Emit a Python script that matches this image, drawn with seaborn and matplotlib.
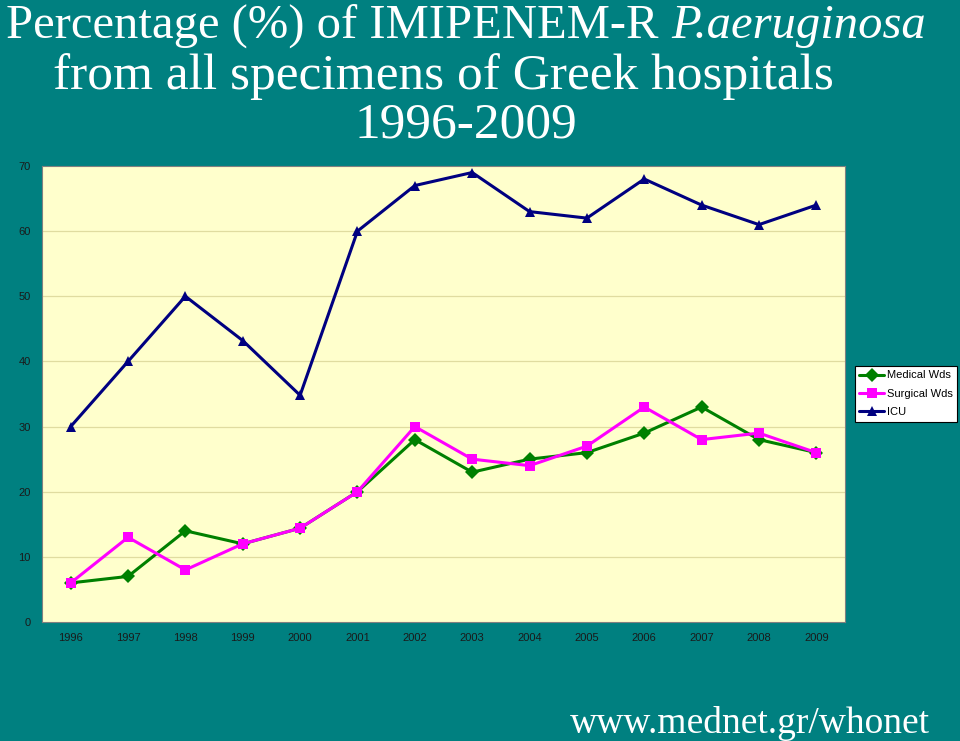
import matplotlib
matplotlib.use("Agg")
import matplotlib.pyplot as plt
import seaborn as sns
import pandas as pd

years = [1996, 1997, 1998, 1999, 2000, 2001, 2002, 2003, 2004, 2005, 2006, 2007, 2008, 2009]
medical = [6, 7, 14, 12, 14.4, 20, 28, 23, 25, 26, 29, 33, 28, 26]
surgical = [6, 13, 8, 12, 14.4, 20, 30, 25, 24, 27, 33, 28, 29, 26]
icu = [30, 40, 50, 43.2, 34.8, 60, 67, 69, 63, 62, 68, 64, 61, 64]
series_names = ["Medical Wds", "Surgical Wds", "ICU"]
yticks = [0, 10, 20, 30, 40, 50, 60, 70]

df = pd.DataFrame({
    "year": years * 3,
    "value": medical + surgical + icu,
    "series": [series_names[0]] * len(years) + [series_names[1]] * len(years) + [series_names[2]] * len(years),
})

sns.set_theme(style="white")
plt.rcParams["font.family"] = ["Liberation Sans", "DejaVu Sans"]

bg = "#008080"
fig = plt.figure(figsize=(9.6, 7.41), dpi=100, facecolor=bg)
ax = fig.add_axes([42 / 960, 1 - 622 / 741, (845 - 42) / 960, (622 - 166) / 741])
ax.set_facecolor("#FFFFCC")

palette = {"Medical Wds": "#008000", "Surgical Wds": "#FF00FF", "ICU": "#000080"}
markers = {"Medical Wds": "D", "Surgical Wds": "s", "ICU": "^"}
sns.lineplot(data=df, x="year", y="value", hue="series", style="series",
             palette=palette, markers=markers, dashes=False, linewidth=2.2,
             markersize=7, markeredgewidth=0, ax=ax)

ax.set_xlim(years[0] - 0.5, years[-1] + 0.5)
ax.set_ylim(0, 70)
ax.set_yticks(yticks)
ax.set_yticklabels([str(v) for v in yticks], fontsize=8, color="#1a1a1a")
ax.set_xticks(years)
ax.set_xticklabels([str(y) for y in years], fontsize=8, color="#1a1a1a")
ax.set_xticks([y + 0.5 for y in years[:-1]], minor=True)
ax.tick_params(axis="both", which="major", length=0, pad=8)
ax.tick_params(axis="x", which="minor", length=3, width=0.6, color="#607070", direction="out")
ax.set_xlabel("")
ax.set_ylabel("")
for v in yticks[1:-1]:
    ax.axhline(v, color="#e0dca0", linewidth=0.9, zorder=0)
for s in ax.spines.values():
    s.set_visible(True)
    s.set_color("#808080")
    s.set_linewidth(0.8)

leg = ax.legend(loc="upper left", bbox_to_anchor=(855 / 960, 1 - 366 / 741),
                bbox_transform=fig.transFigure, fontsize=8, frameon=True,
                fancybox=False, edgecolor="black", facecolor="white", framealpha=1,
                borderpad=0.4, labelspacing=0.75, handlelength=2.2,
                handletextpad=0.25, borderaxespad=0)
leg.get_frame().set_linewidth(0.8)
for t in leg.get_texts():
    t.set_color("black")

# Title
fig.canvas.draw()
renderer = fig.canvas.get_renderer()
part1 = "Percentage (%) of IMIPENEM-R "
part2 = "P.aeruginosa"
t1 = fig.text(0, 1 - 38 / 741, part1, fontsize=35, family="Liberation Serif",
              color="white", ha="left", va="baseline")
t2 = fig.text(0, 1 - 38 / 741, part2, fontsize=35, family="Liberation Serif",
              style="italic", color="white", ha="left", va="baseline")
w1 = t1.get_window_extent(renderer).width
w2 = t2.get_window_extent(renderer).width
start = max(2, 466 - (w1 + w2) / 2)
t1.set_x(start / 960)
t2.set_x((start + w1) / 960)

tfont = dict(family="Liberation Serif", color="white", ha="center", va="baseline")
fig.text(443 / 960, 1 - 89 / 741, "from all specimens of Greek hospitals", fontsize=37, **tfont)
fig.text(466 / 960, 1 - 137 / 741, "1996-2009", fontsize=37, **tfont)
fig.text(930 / 960, 1 - 733 / 741, "www.mednet.gr/whonet", fontsize=27,
         family="Liberation Serif", color="white", ha="right", va="baseline")

fig.savefig("out.png", dpi=100, facecolor=bg)
